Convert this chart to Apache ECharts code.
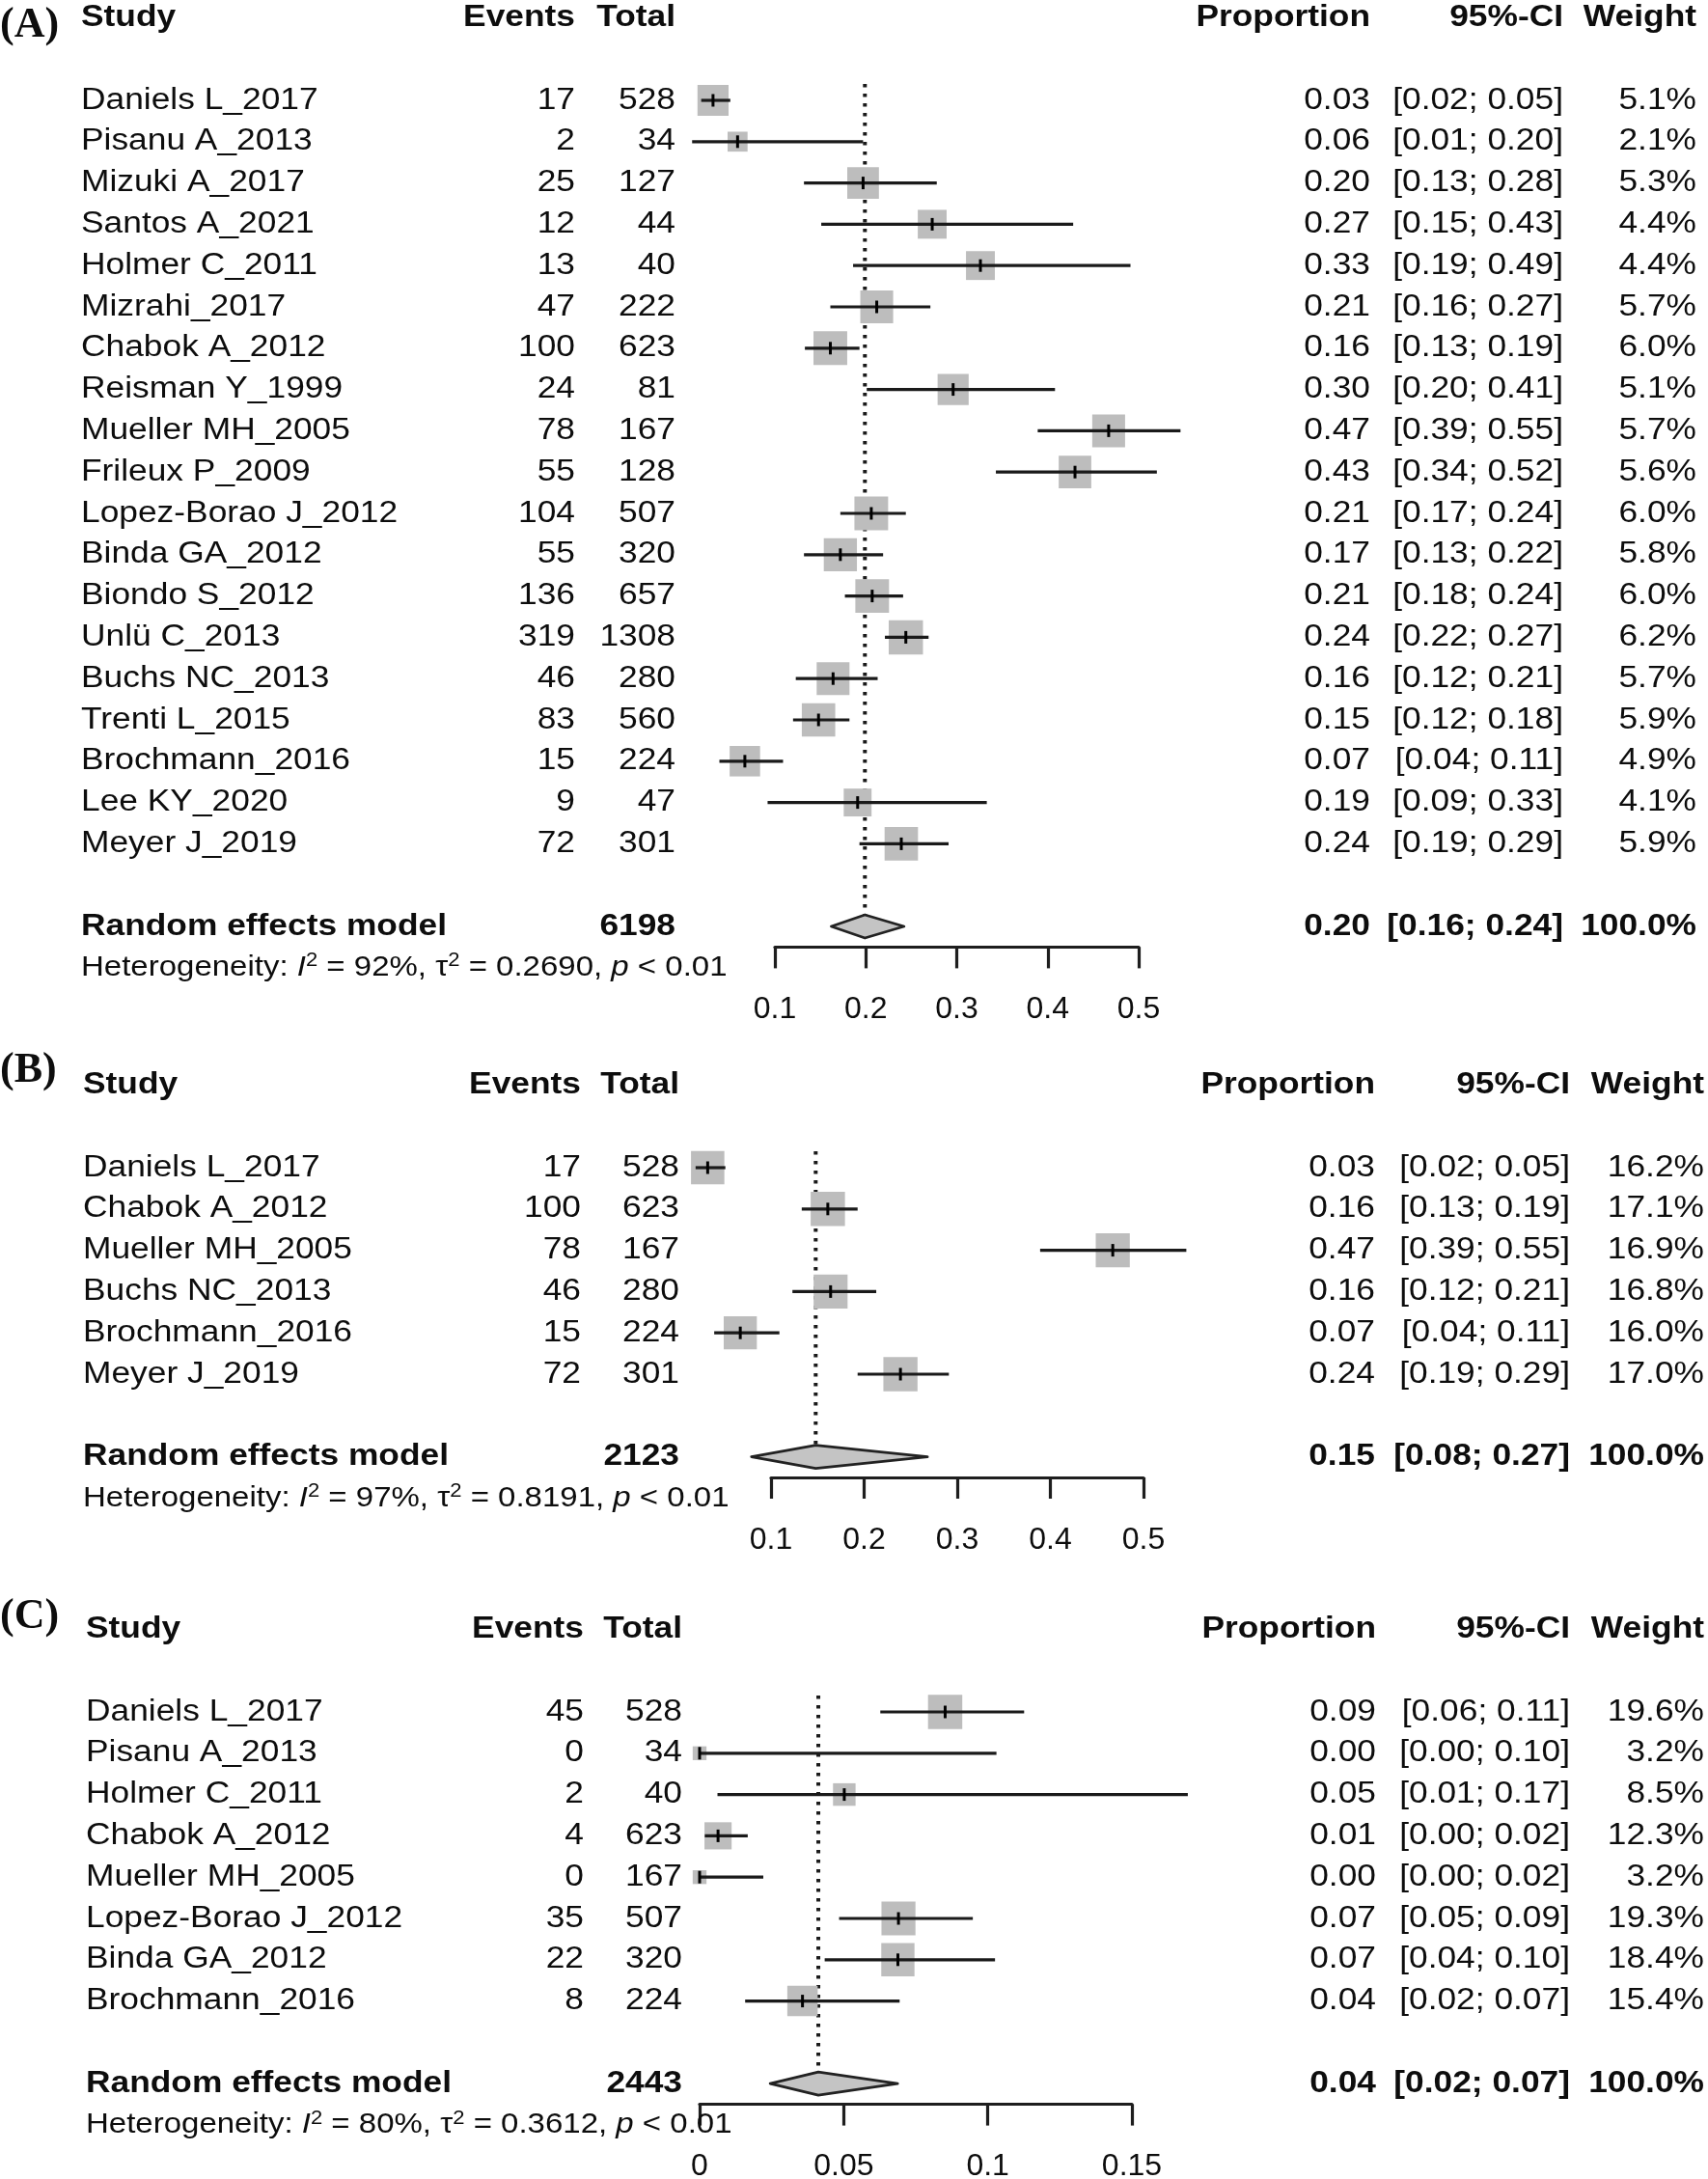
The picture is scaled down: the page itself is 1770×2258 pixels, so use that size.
<!DOCTYPE html>
<html>
<head>
<meta charset="utf-8">
<script src="https://cdn.jsdelivr.net/npm/echarts@6/dist/echarts.min.js"></script>
<style>
html,body{margin:0;padding:0;background:#ffffff;}
#chart{width:1770px;height:2258px;}
</style>
</head>
<body>
<div id="chart"></div>
<script>
// ---------------- Panel A ----------------
const studiesA = ['Daniels L_2017','Pisanu A_2013','Mizuki A_2017','Santos A_2021','Holmer C_2011','Mizrahi_2017','Chabok A_2012','Reisman Y_1999','Mueller MH_2005','Frileux P_2009','Lopez-Borao J_2012','Binda GA_2012','Biondo S_2012','Unlü C_2013','Buchs NC_2013','Trenti L_2015','Brochmann_2016','Lee KY_2020','Meyer J_2019'];
const eventsA = [17,2,25,12,13,47,100,24,78,55,104,55,136,319,46,83,15,9,72];
const totalA  = [528,34,127,44,40,222,623,81,167,128,507,320,657,1308,280,560,224,47,301];
const propA   = [0.032,0.059,0.197,0.273,0.326,0.212,0.161,0.296,0.467,0.430,0.206,0.172,0.207,0.244,0.164,0.148,0.067,0.191,0.239];
const lowerA  = [0.019,0.009,0.132,0.151,0.186,0.161,0.133,0.201,0.389,0.343,0.172,0.132,0.177,0.221,0.123,0.120,0.039,0.092,0.193];
const upperA  = [0.051,0.197,0.278,0.428,0.491,0.271,0.193,0.408,0.546,0.520,0.244,0.219,0.241,0.269,0.213,0.182,0.109,0.333,0.291];
const weightA = [5.1,2.1,5.3,4.4,4.4,5.7,6.0,5.1,5.7,5.6,6.0,5.8,6.0,6.2,5.7,5.9,4.9,4.1,5.9];
const pooledA = [0.199,0.162,0.242];
const totalSumA = 6198;
const hetA = ['92%','0.2690','0.01'];
const ticksA = [0.1,0.2,0.3,0.4,0.5];

// ---------------- Panel B ----------------
const studiesB = ['Daniels L_2017','Chabok A_2012','Mueller MH_2005','Buchs NC_2013','Brochmann_2016','Meyer J_2019'];
const eventsB = [17,100,78,46,15,72];
const totalB  = [528,623,167,280,224,301];
const propB   = [0.032,0.161,0.467,0.164,0.067,0.239];
const lowerB  = [0.019,0.133,0.389,0.123,0.039,0.193];
const upperB  = [0.051,0.193,0.546,0.213,0.109,0.291];
const weightB = [16.2,17.1,16.9,16.8,16.0,17.0];
const pooledB = [0.148,0.079,0.268];
const totalSumB = 2123;
const hetB = ['97%','0.8191','0.01'];
const ticksB = [0.1,0.2,0.3,0.4,0.5];

// ---------------- Panel C ----------------
const studiesC = ['Daniels L_2017','Pisanu A_2013','Holmer C_2011','Chabok A_2012','Mueller MH_2005','Lopez-Borao J_2012','Binda GA_2012','Brochmann_2016'];
const eventsC = [45,0,2,4,0,35,22,8];
const totalC  = [528,34,40,623,167,507,320,224];
const propC   = [0.0852,0,0.0502,0.0064,0,0.069,0.0688,0.0357];
const lowerC  = [0.0627,0,0.0062,0.0018,0,0.0484,0.0434,0.0158];
const upperC  = [0.1126,0.103,0.1694,0.0167,0.0221,0.0948,0.1025,0.0694];
const weightC = [19.6,3.2,8.5,12.3,3.2,19.3,18.4,15.4];
const pooledC = [0.0412,0.0245,0.0687];
const totalSumC = 2443;
const hetC = ['80%','0.3612','0.01'];
const ticksC = [0,0.05,0.1,0.15];

const headers = ['Study','Events','Total','Proportion','95%-CI','Weight'];
const modelLabel = 'Random effects model';

// ---------------- layout / style ----------------
const FF = '"Liberation Sans", Arial, Helvetica, sans-serif';
const SERIF = '"Liberation Serif", "Times New Roman", serif';
const FS = 31, SX = 1.14;
const ROW_H = 42.8, Y_MIN = -2.3;
const SQ = 35.5, DIA_H = 12;
const INK = '#0d0d0d';

const panels = [
  {label:'(A)', labelY:27, y0:104, left:803, right:1180, cols:[84,596,700,1420,1620,1758],
   studies:studiesA, events:eventsA, total:totalA, prop:propA, lower:lowerA, upper:upperA, weight:weightA,
   pooled:pooledA, totalSum:totalSumA, het:hetA, ticks:ticksA},
  {label:'(B)', labelY:1110, y0:1210, left:799, right:1185, cols:[86,602,704,1425,1627,1766],
   studies:studiesB, events:eventsB, total:totalB, prop:propB, lower:lowerB, upper:upperB, weight:weightB,
   pooled:pooledB, totalSum:totalSumB, het:hetB, ticks:ticksB},
  {label:'(C)', labelY:1676, y0:1774, left:725, right:1173, cols:[89,605,707,1426,1627,1766],
   studies:studiesC, events:eventsC, total:totalC, prop:propC, lower:lowerC, upper:upperC, weight:weightC,
   pooled:pooledC, totalSum:totalSumC, het:hetC, ticks:ticksC}
];

function txt(x, y, s, align, bold) {
  return {type:'text', x:x, y:y, scaleX:SX, scaleY:1,
    style:{text:s, fontSize:FS, fontFamily:FF, fontWeight: bold ? 'bold' : 'normal',
      fill:INK, align:align, verticalAlign:'middle'}};
}
function ci(lo, hi) { return '[' + lo.toFixed(2) + '; ' + hi.toFixed(2) + ']'; }

const grids = [], xAxes = [], yAxes = [], series = [];

panels.forEach((P, k) => {
  const N = P.studies.length;
  const xmin = P.ticks[0], xmax = P.ticks[P.ticks.length - 1];
  const maxW = Math.max.apply(null, P.weight);
  const C = P.cols;
  grids.push({left:P.left, width:P.right - P.left, top:P.y0 + Y_MIN*ROW_H,
    height:(N + 1.5 - Y_MIN)*ROW_H, containLabel:false, outerBoundsMode:'none'});
  xAxes.push({type:'value', gridIndex:k, min:xmin, max:xmax, interval:P.ticks[1] - P.ticks[0],
    axisLine:{show:true, onZero:false, lineStyle:{color:'#1e1e1e', width:3.2}},
    axisTick:{show:true, length:22, lineStyle:{color:'#1e1e1e', width:3.2}},
    axisLabel:{show:true, fontSize:32, fontFamily:FF, color:INK, margin:49},
    splitLine:{show:false}});
  yAxes.push({type:'value', gridIndex:k, inverse:true, min:Y_MIN, max:N + 1.5, show:false});

  const base = {xAxisIndex:k, yAxisIndex:k, clip:false, silent:true, animation:false};

  // reference (pooled) dotted line
  series.push(Object.assign({type:'custom', z:1, data:[[P.pooled[0], -0.4, N + 1]],
    renderItem:function(params, api){
      const a = api.coord([api.value(0), api.value(1)]);
      const b = api.coord([api.value(0), api.value(2)]);
      return {type:'line', shape:{x1:a[0], y1:a[1], x2:b[0], y2:b[1] - DIA_H},
        style:{stroke:'#1a1a1a', lineWidth:4, lineDash:[3.5,6.5], lineCap:'butt'}};
    }}, base));

  // study squares + CIs
  series.push(Object.assign({type:'custom', z:2,
    data:P.prop.map((p, i) => [p, i, P.lower[i], P.upper[i], P.weight[i]]),
    renderItem:function(params, api){
      const c = api.coord([api.value(0), api.value(1)]);
      const l = api.coord([api.value(2), api.value(1)]);
      const h = api.coord([api.value(3), api.value(1)]);
      const s = SQ*Math.sqrt(api.value(4)/maxW);
      return {type:'group', children:[
        {type:'rect', shape:{x:c[0] - s/2, y:c[1] - s/2, width:s, height:s}, style:{fill:'#BDBDBD'}},
        {type:'line', shape:{x1:l[0], y1:c[1], x2:h[0], y2:c[1]}, style:{stroke:'#1a1a1a', lineWidth:3.2}},
        {type:'line', shape:{x1:c[0], y1:c[1] - 6.5, x2:c[0], y2:c[1] + 6.5}, style:{stroke:'#000', lineWidth:3}}
      ]};
    }}, base));

  // pooled diamond
  series.push(Object.assign({type:'custom', z:3,
    data:[[P.pooled[0], N + 1, P.pooled[1], P.pooled[2]]],
    renderItem:function(params, api){
      const c = api.coord([api.value(0), api.value(1)]);
      const l = api.coord([api.value(2), api.value(1)]);
      const h = api.coord([api.value(3), api.value(1)]);
      return {type:'polygon', shape:{points:[[l[0], c[1]], [c[0], c[1] - DIA_H], [h[0], c[1]], [c[0], c[1] + DIA_H]]},
        style:{fill:'#C4C4C4', stroke:'#222', lineWidth:2.8, lineJoin:'round'}};
    }}, base));

  // header row
  series.push(Object.assign({type:'custom', z:4, data:[[xmin, -2]],
    renderItem:function(params, api){
      const y = api.coord([api.value(0), api.value(1)])[1];
      return {type:'group', children:[
        {type:'text', x:0, y:P.labelY, style:{text:P.label, fontSize:44, fontFamily:SERIF, fontWeight:'bold',
          fill:INK, align:'left', verticalAlign:'middle'}},
        txt(C[0], y, headers[0], 'left', true),
        txt(C[1], y, headers[1], 'right', true),
        txt(C[2], y, headers[2], 'right', true),
        txt(C[3], y, headers[3], 'right', true),
        txt(C[4], y, headers[4], 'right', true),
        txt(C[5], y, headers[5], 'right', true)
      ]};
    }}, base));

  // study text rows
  series.push(Object.assign({type:'custom', z:4, data:P.studies.map((s, i) => [xmin, i]),
    renderItem:function(params, api){
      const i = params.dataIndex;
      const y = api.coord([api.value(0), api.value(1)])[1];
      return {type:'group', children:[
        txt(C[0], y, P.studies[i], 'left', false),
        txt(C[1], y, String(P.events[i]), 'right', false),
        txt(C[2], y, String(P.total[i]), 'right', false),
        txt(C[3], y, P.prop[i].toFixed(2), 'right', false),
        txt(C[4], y, ci(P.lower[i], P.upper[i]), 'right', false),
        txt(C[5], y, P.weight[i].toFixed(1) + '%', 'right', false)
      ]};
    }}, base));

  // random effects row + heterogeneity
  series.push(Object.assign({type:'custom', z:4, data:[[xmin, N + 1, N + 2]],
    renderItem:function(params, api){
      const y = api.coord([api.value(0), api.value(1)])[1];
      const y2 = api.coord([api.value(0), api.value(2)])[1];
      const tok = (fs, extra) => Object.assign({fontSize:fs, fontFamily:FF, fill:INK}, extra || {});
      return {type:'group', children:[
        txt(C[0], y, modelLabel, 'left', true),
        txt(C[2], y, String(P.totalSum), 'right', true),
        txt(C[3], y, P.pooled[0].toFixed(2), 'right', true),
        txt(C[4], y, ci(P.pooled[1], P.pooled[2]), 'right', true),
        txt(C[5], y, '100.0%', 'right', true),
        {type:'text', x:C[0], y:y2, scaleX:1.1, scaleY:1,
          style:{text:'{n|Heterogeneity: }{i|I}{s|2}{n| = ' + P.het[0] + ', τ}{s|2}{n| = ' + P.het[1] + ', }{i|p}{n| < ' + P.het[2] + '}',
            fontSize:30, fontFamily:FF, fill:INK, align:'left', verticalAlign:'middle',
            rich:{n:tok(30, {lineHeight:34}), i:tok(30, {fontStyle:'italic', lineHeight:34}),
                  s:tok(20, {lineHeight:20, verticalAlign:'top'})}}}
      ]};
    }}, base));
});

const chart = echarts.init(document.getElementById('chart'), null, {renderer:'canvas', width:1770, height:2258});
chart.setOption({
  animation:false,
  backgroundColor:'#ffffff',
  grid:grids,
  xAxis:xAxes,
  yAxis:yAxes,
  series:series
});
</script>
</body>
</html>
